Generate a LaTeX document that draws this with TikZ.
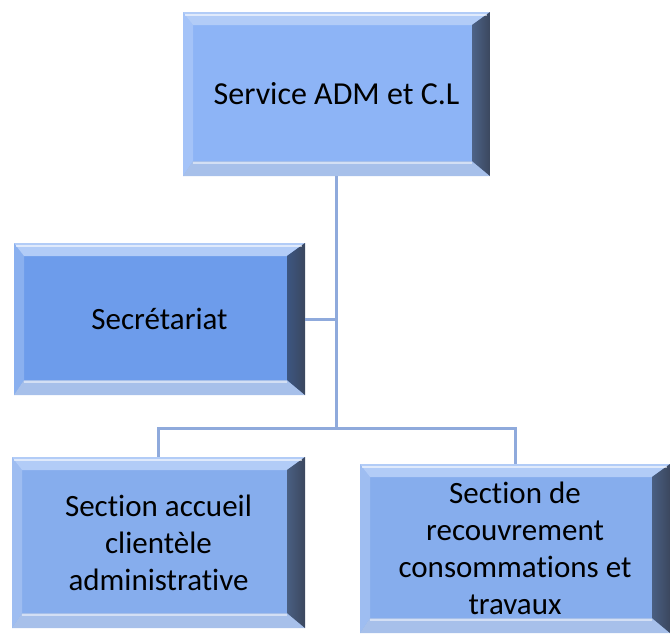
\documentclass[tikz,border=0pt]{standalone}
\usepackage{fontspec}
\setmainfont{Carlito}[Ligatures={NoCommon}]
\usetikzlibrary{calc}
\definecolor{orgline}{HTML}{8FAADC}
\definecolor{facetop}{HTML}{8DB4F6}
\definecolor{facesec}{HTML}{6D9CEB}
\definecolor{facesub}{HTML}{86ADED}
\definecolor{bevdark}{HTML}{3B475E}
\definecolor{bevlight}{HTML}{B2CCF7}
\definecolor{bevlow}{HTML}{A7C0EA}
\tikzset{
  orgbox/.style={fill=#1, align=center, inner sep=0pt, text=black,
    font=\fontsize{31}{37}\selectfont,
    path picture={
      \path (path picture bounding box.north west) coordinate (bnw)
            (path picture bounding box.north east) coordinate (bne)
            (path picture bounding box.south west) coordinate (bsw)
            (path picture bounding box.south east) coordinate (bse);
      % left and top bevels
      \fill[#1!80!white] (bnw) -- (bsw) -- ($(bsw)+(10pt,15pt)$) -- ($(bnw)+(10pt,-13pt)$) -- cycle;
      \fill[bevlight] (bnw) -- (bne) -- ($(bne)+(-18pt,-13pt)$) -- ($(bnw)+(10pt,-13pt)$) -- cycle;
      % bottom and right bevels
      \fill[bevlow] (bsw) -- (bse) -- ($(bse)+(-18pt,15pt)$) -- ($(bsw)+(10pt,15pt)$) -- cycle;
      \shade[left color=#1!55!black, right color=bevdark]
        (bne) -- (bse) -- ($(bse)+(-18pt,15pt)$) -- ($(bne)+(-18pt,-13pt)$) -- cycle;
      \draw[white, opacity=0.6, line width=1.5pt] ($(bnw)+(2pt,-3pt)$) -- ($(bne)+(-3pt,-3pt)$);
      \draw[white, opacity=0.5, line width=1.2pt] ($(bsw)+(10pt,13pt)$) -- ($(bse)+(-18pt,13pt)$);
    }},
  orgwire/.style={draw=orgline, line width=3pt},
}
\begin{document}
\begin{tikzpicture}[x=1pt, y=-1pt]
  \useasboundingbox (0,0) rectangle (670,635);
  \node[orgbox=facetop, font=\fontsize{32}{37}\selectfont, minimum width=307pt, minimum height=164pt] (svc) at (336.5,94) {Service ADM et C.L};
  \node[orgbox=facesec, minimum width=291pt, minimum height=152pt] (sec) at (159.5,319) {Secrétariat};
  \node[orgbox=facesub, minimum width=293pt, minimum height=171pt] (acc) at (158.5,542.5) {Section accueil\\clientèle\\administrative};
  \node[orgbox=facesub, minimum width=310pt, minimum height=169pt] (rec) at (515,548.5) {Section de\\recouvrement\\consommations et\\travaux};
  \coordinate (bar) at ([yshift=-252pt]svc.south);
  \draw[orgwire] (svc.south) -- (bar);
  \draw[orgwire] (sec.east) -- (sec.east -| svc.south);
  \draw[orgwire] (acc.north) |- (bar) -| (rec.north);
\end{tikzpicture}
\end{document}
